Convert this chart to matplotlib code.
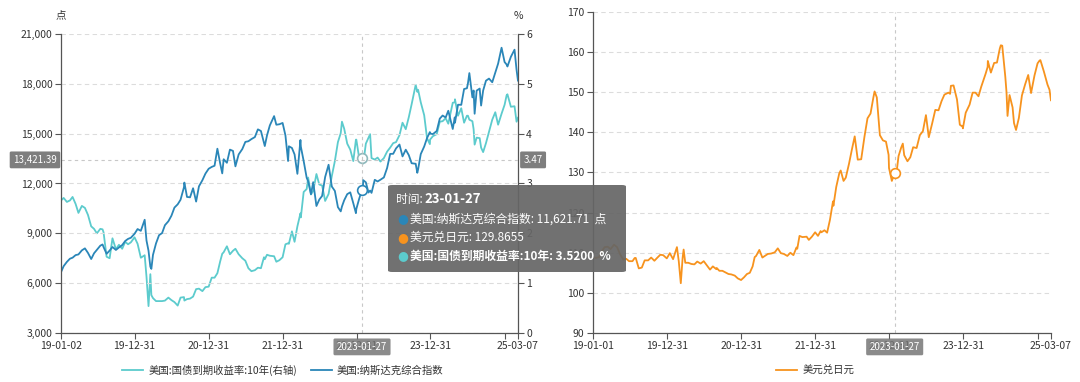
import matplotlib
matplotlib.use("Agg")
import matplotlib.pyplot as plt
from matplotlib.patches import FancyBboxPatch
from matplotlib.ticker import FuncFormatter
import pandas as pd

plt.rcParams["font.family"] = ["Noto Sans CJK SC", "DejaVu Sans"]

# semi-monthly readings (plus a few turning points)
dates = [
    # 2019
    "2019-01-02", "2019-01-15", "2019-01-31", "2019-02-15", "2019-02-28", "2019-03-15", "2019-03-29",
    "2019-04-15", "2019-04-30", "2019-05-15", "2019-05-31", "2019-06-14", "2019-06-28", "2019-07-15",
    "2019-07-26", "2019-07-31", "2019-08-15", "2019-08-30", "2019-09-13", "2019-09-30", "2019-10-15",
    "2019-10-31", "2019-11-15", "2019-11-29", "2019-12-13", "2019-12-31",
    # 2020
    "2020-01-15", "2020-01-31", "2020-02-19", "2020-02-28", "2020-03-09", "2020-03-18", "2020-03-23",
    "2020-03-31", "2020-04-15", "2020-04-30", "2020-05-15", "2020-05-29", "2020-06-15", "2020-06-30",
    "2020-07-15", "2020-07-31", "2020-08-14", "2020-08-31", "2020-09-02", "2020-09-15", "2020-09-30",
    "2020-10-15", "2020-10-30", "2020-11-13", "2020-11-30", "2020-12-15", "2020-12-31",
    # 2021
    "2021-01-15", "2021-01-29", "2021-02-12", "2021-02-26", "2021-03-08", "2021-03-15", "2021-03-31",
    "2021-04-15", "2021-04-30", "2021-05-12", "2021-05-28", "2021-06-15", "2021-06-30", "2021-07-15",
    "2021-07-30", "2021-08-16", "2021-08-31", "2021-09-15", "2021-09-30", "2021-10-04", "2021-10-15",
    "2021-10-29", "2021-11-19", "2021-11-30", "2021-12-15", "2021-12-31",
    # 2022
    "2022-01-14", "2022-01-27", "2022-01-31", "2022-02-15", "2022-02-28", "2022-03-14", "2022-03-29",
    "2022-03-31", "2022-04-14", "2022-04-29", "2022-05-06", "2022-05-20", "2022-05-31", "2022-06-16",
    "2022-06-30", "2022-07-14", "2022-07-29", "2022-08-15", "2022-08-31", "2022-09-15", "2022-09-30",
    "2022-10-14", "2022-10-20", "2022-10-31", "2022-11-15", "2022-11-30", "2022-12-15", "2022-12-28",
    "2022-12-30",
    # 2023
    "2023-01-13", "2023-01-27", "2023-01-31", "2023-02-02", "2023-02-15", "2023-02-28", "2023-03-08",
    "2023-03-15", "2023-03-31", "2023-04-14", "2023-04-28", "2023-05-15", "2023-05-31", "2023-06-15",
    "2023-06-30", "2023-07-14", "2023-07-31", "2023-08-15", "2023-08-31", "2023-09-15", "2023-09-29",
    "2023-10-19", "2023-10-27", "2023-10-31", "2023-11-13", "2023-11-30", "2023-12-14", "2023-12-28",
    "2023-12-29",
    # 2024
    "2024-01-12", "2024-01-31", "2024-02-15", "2024-02-29", "2024-03-15", "2024-03-28", "2024-04-19",
    "2024-04-29", "2024-04-30", "2024-05-15", "2024-05-31", "2024-06-14", "2024-06-28", "2024-07-03",
    "2024-07-10", "2024-07-25", "2024-07-31", "2024-08-05", "2024-08-15", "2024-08-30", "2024-09-06",
    "2024-09-16", "2024-09-30", "2024-10-15", "2024-10-31", "2024-11-15", "2024-11-29", "2024-12-16",
    "2024-12-31",
    # 2025
    "2025-01-10", "2025-01-14", "2025-01-31", "2025-02-18", "2025-02-28", "2025-03-07",
]

nasdaq = [
    6665, 7024, 7282, 7472, 7533, 7688, 7729, 7976, 8095, 7822, 7453, 7797, 8006, 8258,
    8330, 8175, 7767, 7963, 8177, 7999, 8148, 8292, 8540, 8665, 8735, 8972,
    9258, 9150, 9817, 8567, 7950, 6989, 6860, 7700, 8393, 8889, 9015, 9489, 9726, 10058,
    10550, 10745, 11019, 11775, 12056, 11190, 11168, 11714, 10911, 11829, 12198, 12595, 12888,
    12998, 13070, 14095, 13192, 12609, 13460, 13247, 14039, 13962, 13032, 13749, 14073, 14504, 14543,
    14673, 14794, 15259, 15161, 14449, 14255, 14897, 15498, 16057, 15538, 15566, 15645,
    14894, 13352, 14240, 14139, 13751, 12581, 14619, 14221, 13351, 12335, 12145, 11354, 12081, 10646,
    11029, 11251, 12391, 13128, 11816, 11552, 10576, 10321, 10615, 10988, 11358, 11468, 10811, 10213,
    10466,
    11079, 11621.71, 11585, 12201, 12070, 11456, 11576, 11435, 12222, 12123, 12227, 12365, 12935, 13782,
    13788, 14114, 14346, 13631, 14035, 13708, 13219, 13187, 12643, 12851, 13768, 14226, 14734, 15095,
    15011,
    14973, 15164, 15906, 16092, 15973, 16379, 15282, 15983, 15658, 16742, 16735, 17689, 17733, 18028,
    18647, 17182, 17599, 16200, 17594, 17714, 16691, 17592, 18189, 18316, 18095, 18680, 19218, 20174,
    19311,
    19162, 19044, 19627, 20056, 18847, 18196,
]

ust10y = [
    2.66, 2.71, 2.63, 2.66, 2.73, 2.59, 2.41, 2.55, 2.51, 2.37, 2.14, 2.09, 2.00, 2.09,
    2.08, 2.02, 1.53, 1.50, 1.90, 1.68, 1.77, 1.69, 1.83, 1.78, 1.82, 1.92,
    1.79, 1.51, 1.56, 1.13, 0.54, 1.18, 0.76, 0.70, 0.64, 0.64, 0.64, 0.65, 0.71, 0.66,
    0.62, 0.55, 0.71, 0.72, 0.65, 0.68, 0.69, 0.73, 0.88, 0.89, 0.84, 0.92, 0.93,
    1.11, 1.11, 1.20, 1.44, 1.59, 1.62, 1.74, 1.58, 1.65, 1.69, 1.58, 1.50, 1.45, 1.30,
    1.24, 1.26, 1.31, 1.30, 1.52, 1.48, 1.57, 1.55, 1.54, 1.43, 1.46, 1.52,
    1.78, 1.80, 1.79, 2.04, 1.83, 2.14, 2.40, 2.32, 2.83, 2.89, 3.12, 2.78, 2.85, 3.19,
    2.98, 2.96, 2.65, 2.79, 3.15, 3.45, 3.83, 4.01, 4.24, 4.10, 3.80, 3.68, 3.45, 3.88,
    3.88,
    3.51, 3.52, 3.52, 3.40, 3.80, 3.92, 3.99, 3.51, 3.48, 3.52, 3.44, 3.51, 3.64, 3.72,
    3.81, 3.83, 3.97, 4.22, 4.09, 4.33, 4.59, 4.98, 4.84, 4.88, 4.63, 4.37, 3.91, 3.79,
    3.88,
    3.95, 3.99, 4.24, 4.25, 4.31, 4.20, 4.62, 4.63, 4.69, 4.36, 4.51, 4.22, 4.36, 4.36,
    4.28, 4.25, 4.09, 3.78, 3.92, 3.91, 3.72, 3.63, 3.81, 4.04, 4.28, 4.43, 4.18, 4.40,
    4.58,
    4.77, 4.79, 4.54, 4.55, 4.24, 4.32,
]

usdjpy = [
    108.9, 108.7, 108.9, 110.5, 111.4, 111.5, 110.9, 112.0, 111.4, 109.6, 108.3, 108.5, 107.9, 107.9,
    108.7, 108.7, 106.1, 106.3, 108.1, 108.1, 108.8, 108.0, 108.8, 109.5, 109.4, 108.6,
    109.9, 108.4, 111.4, 107.9, 102.4, 108.7, 110.8, 107.5, 107.5, 107.2, 107.1, 107.8, 107.3, 107.9,
    106.9, 105.8, 106.6, 105.9, 106.2, 105.5, 105.5, 105.1, 104.7, 104.6, 104.3, 103.6, 103.2,
    103.9, 104.7, 105.0, 106.6, 108.9, 109.2, 110.7, 108.8, 109.3, 109.7, 109.8, 110.1, 111.1, 109.9,
    109.7, 109.2, 110.0, 109.4, 111.3, 111.0, 114.2, 113.9, 114.0, 113.2, 114.0, 115.1,
    114.2, 115.4, 115.1, 115.6, 115.0, 118.2, 122.8, 121.7, 126.4, 129.8, 130.5, 127.9, 128.7, 132.2,
    135.7, 139.0, 133.2, 133.3, 138.9, 143.5, 144.7, 148.7, 150.2, 148.7, 139.3, 138.0, 137.7, 134.4,
    131.1,
    127.9, 129.8655, 130.1, 128.7, 134.1, 136.2, 137.2, 134.3, 132.8, 133.8, 136.3, 136.1, 139.3, 140.3,
    144.3, 138.8, 142.3, 145.6, 145.5, 147.8, 149.4, 149.9, 149.6, 151.6, 151.7, 148.2, 141.9, 141.4,
    141.0,
    144.9, 146.9, 149.9, 149.9, 149.0, 151.3, 154.6, 156.3, 157.8, 154.9, 157.3, 157.4, 160.9, 161.7,
    161.6, 153.9, 150.0, 144.1, 149.3, 146.2, 142.3, 140.6, 143.6, 149.2, 152.0, 154.3, 149.8, 154.2,
    157.2,
    157.9, 158.0, 155.2, 151.9, 150.6, 148.0,
]

tick_dates = ["2019-12-31", "2020-12-31", "2021-12-31", "2022-12-31", "2023-12-31", "2024-12-31", "2025-03-07"]
tick_labels = ["19-12-31", "20-12-31", "21-12-31", "22-12-31", "23-12-31", "", "25-03-07"]

label_yield = "美国:国债到期收益率:10年(右轴)"
label_nasdaq = "美国:纳斯达克综合指数"
label_jpy = "美元兑日元"

focus_date = "2023-01-27"
cursor_value = 13421.39  # where the pointer sits on the left axis

BLUE = "#2a86b8"
CYAN = "#5ccbcd"
ORANGE = "#f7931e"
AXIS = "#555555"
TEXT = "#333333"
GRID = "#dcdcdc"
BOX = "#777777"

x = pd.to_datetime(dates)
i_focus = dates.index(focus_date)
t_focus = x[i_focus]

fig = plt.figure(figsize=(10.8, 3.82), dpi=100)
ax = fig.add_axes([0.0565, 0.1283, 0.4231, 0.7827])
ax2 = ax.twinx()
axr = fig.add_axes([0.549, 0.1283, 0.4241, 0.8403])


def style_axis(a):
    for s in ("top", "right"):
        a.spines[s].set_visible(False)
    for s in ("left", "bottom"):
        a.spines[s].set_color(AXIS)
        a.spines[s].set_linewidth(0.9)
    a.tick_params(length=4, width=0.8, color=AXIS, labelsize=7.5, labelcolor=TEXT, pad=2)
    a.yaxis.grid(True, ls=(0, (4, 3)), color=GRID, lw=0.8)
    a.set_axisbelow(True)


# ---- left panel: nasdaq + 10y yield
line_y, = ax2.plot(x, ust10y, color=CYAN, lw=1.3)
line_n, = ax.plot(x, nasdaq, color=BLUE, lw=1.3)
ax.set_zorder(ax2.get_zorder() + 1)
ax.patch.set_visible(False)

style_axis(ax)
ax.set_ylim(3000, 21000)
ax.set_yticks(range(3000, 21001, 3000))
ax.yaxis.set_major_formatter(FuncFormatter(lambda v, p: f"{v:,.0f}"))
ax.set_xlim(pd.Timestamp("2019-01-02"), pd.Timestamp("2025-03-07"))
ax.set_xticks(pd.to_datetime(["2019-01-02"] + tick_dates))
ax.set_xticklabels(["19-01-02"] + tick_labels)

for s in ("top", "left", "bottom"):
    ax2.spines[s].set_visible(False)
ax2.spines["right"].set_color(AXIS)
ax2.spines["right"].set_linewidth(0.9)
ax2.set_ylim(0, 6)
ax2.set_yticks(range(0, 7))
ax2.tick_params(length=4, width=0.8, color=AXIS, labelsize=7.5, labelcolor=TEXT, pad=2)

ax.text(0, 1.064, "点", transform=ax.transAxes, ha="center", va="center", fontsize=7.5, color=TEXT)
ax.text(1, 1.06, "%", transform=ax.transAxes, ha="center", va="center", fontsize=7.5, color=TEXT)

# crosshair on the left panel
ax.axvline(t_focus, color="#c8c8c8", lw=0.8, ls=(0, (3, 3)), zorder=1)
ax.axhline(cursor_value, color="#c8c8c8", lw=0.8, ls=(0, (3, 3)), zorder=1)
ax.plot([t_focus], [nasdaq[i_focus]], marker="o", ms=7, mfc="white", mec=BLUE, mew=1.2, zorder=5)
ax2.plot([t_focus], [ust10y[i_focus]], marker="o", ms=7, mfc="white", mec="#8fb8bb", mew=1.2, zorder=5)

box = dict(boxstyle="round,pad=0.35,rounding_size=0.15", fc=BOX, ec="none", alpha=0.95)
ax.annotate(f"{cursor_value:,.2f}", xy=(0, cursor_value), xycoords=("axes fraction", "data"),
            xytext=(-3, 0), textcoords="offset points", ha="right", va="center",
            fontsize=7, color="white", bbox=box, annotation_clip=False)
right_value = (cursor_value - 3000) / 18000 * 6
ax.annotate(f"{right_value:.2f}", xy=(1, cursor_value), xycoords=("axes fraction", "data"),
            xytext=(4, 0), textcoords="offset points", ha="left", va="center",
            fontsize=7, color="white", bbox=box, annotation_clip=False)
date_box = dict(boxstyle="round,pad=0.35,rounding_size=0.15", fc=BOX, ec="none", alpha=0.85)
ax.annotate(focus_date, xy=(t_focus, 0), xycoords=("data", "axes fraction"),
            xytext=(0, -10), textcoords="offset points", ha="center", va="center",
            fontsize=7, color="white", bbox=date_box, annotation_clip=False, zorder=6)

fig.legend([line_y, line_n], [label_yield, label_nasdaq], loc="center",
           bbox_to_anchor=(0.262, 0.03), ncol=2, frameon=False, fontsize=7.5,
           handlelength=2.0, columnspacing=1.3, handletextpad=0.5, labelcolor=TEXT)

# ---- right panel: usd/jpy
line_j, = axr.plot(x, usdjpy, color=ORANGE, lw=1.3)
style_axis(axr)
axr.set_ylim(90, 170)
axr.set_yticks(range(90, 171, 10))
axr.set_xlim(pd.Timestamp("2019-01-01"), pd.Timestamp("2025-03-07"))
axr.set_xticks(pd.to_datetime(["2019-01-01"] + tick_dates))
axr.set_xticklabels(["19-01-01"] + tick_labels)

axr.axvline(t_focus, color="#c8c8c8", lw=0.8, ls=(0, (3, 3)), zorder=1)
axr.plot([t_focus], [usdjpy[i_focus]], marker="o", ms=7, mfc="white", mec=ORANGE, mew=1.2, zorder=5)
axr.annotate(focus_date, xy=(t_focus, 0), xycoords=("data", "axes fraction"),
             xytext=(0, -10), textcoords="offset points", ha="center", va="center",
             fontsize=7, color="white", bbox=date_box, annotation_clip=False, zorder=6)

fig.legend([line_j], [label_jpy], loc="center", bbox_to_anchor=(0.755, 0.03), frameon=False,
           fontsize=7.5, handlelength=2.0, handletextpad=0.5, labelcolor=TEXT)

# ---- tooltip
W, H = 1080, 382
tip = FancyBboxPatch((388 / W, 1 - 272 / H), 238 / W, 87 / H,
                     boxstyle="round,pad=0,rounding_size=0.004", transform=fig.transFigure,
                     fc="#666666", ec="none", alpha=0.93, zorder=10)
fig.add_artist(tip)
fig.text(396 / W, 1 - 199 / H, "时间:", color="white", fontsize=8.5, va="center", zorder=11)
fig.text(424 / W, 1 - 199 / H, focus_date[2:], color="white", fontsize=9.5, fontweight="bold",
         va="center", zorder=11)
rows = [
    (BLUE, f"美国:纳斯达克综合指数: {nasdaq[i_focus]:,.2f}  点", "normal"),
    (ORANGE, f"美元兑日元: {usdjpy[i_focus]:.4f}", "normal"),
    (CYAN, f"美国:国债到期收益率:10年: {ust10y[i_focus]:.4f}  %", "bold"),
]
for k, (c, txt, wt) in enumerate(rows):
    yy = 1 - (219 + 18.5 * k) / H
    fig.text(397 / W, yy, "●", color=c, fontsize=9, va="center", family="DejaVu Sans", zorder=11)
    fig.text(410 / W, yy, txt, color="white", fontsize=8.5, fontweight=wt, va="center", zorder=11)

fig.savefig("out.png", dpi=100)
plt.close(fig)
